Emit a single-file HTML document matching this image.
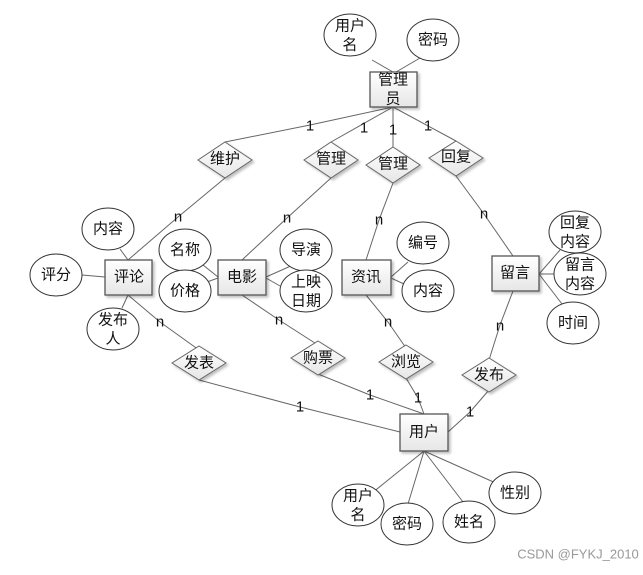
<!DOCTYPE html>
<html><head><meta charset="utf-8"><style>
body{margin:0;background:#fff;width:643px;height:570px;overflow:hidden}
svg text{font-family:"Liberation Sans","Noto Sans CJK SC",sans-serif;font-size:15px;fill:#111;text-anchor:middle;dominant-baseline:central}
.l{stroke:#666;stroke-width:1;fill:none}
.e{fill:#fff;stroke:#333;stroke-width:1}
.b{fill:url(#g);stroke:#555;stroke-width:1.3;filter:url(#s)}
.d{fill:url(#g);stroke:#666;stroke-width:1;filter:url(#s)}
.c{font-size:14px}
</style></head><body>
<svg width="643" height="570" xmlns="http://www.w3.org/2000/svg">
<defs>
<linearGradient id="g" x1="0" y1="0" x2="0" y2="1"><stop offset="0" stop-color="#fff"/><stop offset="1" stop-color="#e6e6e6"/></linearGradient>
<filter id="s" x="-20%" y="-20%" width="150%" height="150%"><feDropShadow dx="2" dy="2" stdDeviation="1.2" flood-color="#000" flood-opacity="0.25"/></filter>
</defs>
<g class="l">
<line x1="372" y1="60" x2="393" y2="72"/><line x1="420" y1="58" x2="396" y2="72"/>
<polyline points="393,107 310,125 225,142"/><line x1="393" y1="107" x2="331" y2="142"/>
<line x1="393" y1="107" x2="393" y2="147"/><line x1="393" y1="107" x2="456" y2="141"/>
<polyline points="225,178 178,217 128,260"/><polyline points="331,178 287,218 242,260"/>
<polyline points="393,183 379,220 366,260"/><polyline points="456,176 484,214 513,256"/>
<line x1="120" y1="249" x2="128" y2="260"/><line x1="82" y1="275" x2="105" y2="277"/><line x1="122" y1="308" x2="128" y2="295"/>
<line x1="203" y1="265" x2="218" y2="277"/><line x1="207" y1="282" x2="218" y2="278"/>
<line x1="293" y1="265" x2="266" y2="277"/><line x1="280" y1="286" x2="266" y2="278"/>
<line x1="408" y1="262" x2="391" y2="277"/><line x1="404" y1="284" x2="391" y2="278"/>
<line x1="560" y1="250" x2="539" y2="274"/><line x1="556" y1="274" x2="539" y2="274"/><line x1="562" y1="304" x2="539" y2="274"/>
<polyline points="128,295 160,322 199,350"/><polyline points="242,295 279,320 318,345"/>
<polyline points="366,295 388,322 406,348"/><polyline points="513,291 500,325 489,360"/>
<polyline points="199,380 300,407 400,432"/><polyline points="318,374 370,395 424,414"/>
<polyline points="406,378 418,398 424,414"/><polyline points="489,390 470,412 448,432"/>
<line x1="424" y1="451" x2="372" y2="493"/><line x1="424" y1="451" x2="408" y2="504"/>
<line x1="424" y1="451" x2="463" y2="502"/><line x1="424" y1="451" x2="498" y2="484"/>
</g>
<g class="e">
<ellipse cx="350" cy="35" rx="26" ry="21"/><ellipse cx="433" cy="40" rx="26" ry="21"/>
<ellipse cx="108" cy="229" rx="26" ry="21"/><ellipse cx="56" cy="275" rx="26" ry="21"/><ellipse cx="113" cy="329" rx="26" ry="21"/>
<ellipse cx="185" cy="250" rx="26" ry="21"/><ellipse cx="185" cy="291" rx="26" ry="21"/>
<ellipse cx="306" cy="250" rx="26" ry="21"/><ellipse cx="306" cy="291" rx="26" ry="21"/>
<ellipse cx="423" cy="243" rx="26" ry="21"/><ellipse cx="428" cy="291" rx="26" ry="21"/>
<ellipse cx="575" cy="232" rx="26" ry="21"/><ellipse cx="580" cy="274" rx="26" ry="21"/><ellipse cx="573" cy="323" rx="26" ry="21"/>
<ellipse cx="358" cy="505" rx="26" ry="21"/><ellipse cx="407" cy="524" rx="26" ry="21"/><ellipse cx="469" cy="522" rx="26" ry="21"/><ellipse cx="515" cy="493" rx="26" ry="21"/>
</g>
<rect class="b" x="370" y="72" width="47" height="35"/>
<rect class="b" x="105" y="260" width="47" height="35"/><rect class="b" x="218" y="260" width="48" height="35"/>
<rect class="b" x="342" y="260" width="49" height="35"/><rect class="b" x="492" y="256" width="47" height="35"/>
<rect class="b" x="400" y="414" width="48" height="37"/>
<g class="d">
<polygon points="225,142 252,160 225,178 198,160"/><polygon points="331,142 358,160 331,178 304,160"/>
<polygon points="393,147 420,165 393,183 366,165"/><polygon points="456,141 483,158 456,176 429,158"/>
<polygon points="199,346 226,363 199,380 172,363"/><polygon points="318,341 345,358 318,375 291,358"/>
<polygon points="406,345 433,362 406,379 379,362"/><polygon points="489,358 516,375 489,392 462,375"/>
</g>
<text x="350" y="26">用户</text><text x="350" y="45">名</text><text x="433" y="40">密码</text>
<text x="393" y="80">管理</text><text x="393" y="99">员</text>
<text x="225" y="159">维护</text><text x="331" y="159">管理</text><text x="393" y="164">管理</text><text x="456" y="157">回复</text>
<text x="108" y="229">内容</text><text x="56" y="275">评分</text><text x="113" y="320">发布</text><text x="113" y="339">人</text>
<text x="129" y="277">评论</text><text x="242" y="277">电影</text><text x="366" y="277">资讯</text><text x="515" y="273">留言</text><text x="424" y="432">用户</text>
<text x="185" y="250">名称</text><text x="185" y="291">价格</text><text x="306" y="250">导演</text><text x="306" y="282">上映</text><text x="306" y="301">日期</text>
<text x="423" y="243">编号</text><text x="428" y="291">内容</text>
<text x="575" y="223">回复</text><text x="575" y="242">内容</text><text x="580" y="265">留言</text><text x="580" y="284">内容</text><text x="573" y="323">时间</text>
<text x="199" y="363">发表</text><text x="318" y="358">购票</text><text x="406" y="362">浏览</text><text x="489" y="375">发布</text>
<text x="358" y="496">用户</text><text x="358" y="515">名</text><text x="407" y="524">密码</text><text x="469" y="522">姓名</text><text x="515" y="493">性别</text>
<g class="c">
<text x="310" y="126">1</text><text x="364" y="128">1</text><text x="393" y="130">1</text><text x="428" y="126">1</text>
<text x="178" y="217">n</text><text x="287" y="218">n</text><text x="379" y="220">n</text><text x="484" y="214">n</text>
<text x="160" y="322">n</text><text x="279" y="320">n</text><text x="388" y="322">n</text><text x="500" y="326">n</text>
<text x="300" y="407">1</text><text x="370" y="395">1</text><text x="418" y="398">1</text><text x="470" y="412">1</text>
</g>
<text x="578" y="554" style="font-size:13px;fill:#999">CSDN @FYKJ_2010</text>
</svg>
</body></html>
